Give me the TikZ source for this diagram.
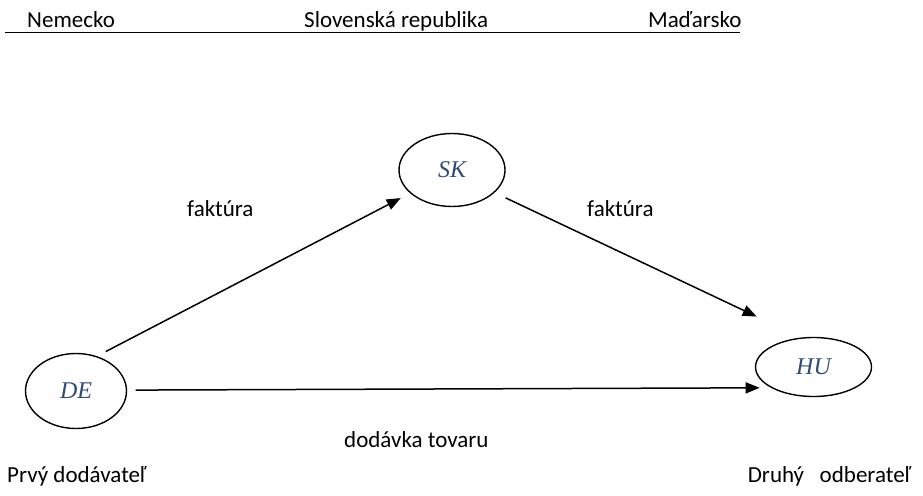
\documentclass[tikz,border=0pt]{standalone}
\usepackage{fontspec}
\setmainfont{Carlito}
\newfontfamily\labelserif{Liberation Serif}
\usetikzlibrary{shapes.geometric,arrows.meta}
\definecolor{labelblue}{RGB}{47,75,120}
\tikzset{
  lbl/.style={font=\fontsize{23}{27}\selectfont, inner sep=0pt, anchor=base west},
  country/.style={ellipse, draw, line width=1.4pt, inner sep=0pt,
    font=\labelserif\itshape\fontsize{24}{28}\selectfont, text=labelblue},
  conn/.style={-{Triangle[length=14pt,width=11pt]}, line width=1.5pt},
}
\begin{document}
\begin{tikzpicture}[x=1pt,y=-1pt]
\useasboundingbox[fill=white] (0,0) rectangle (923,495);
% header
\node[lbl] (nem) at (27,28) {Nemecko};
\node[lbl] (svk) at (304,28) {Slovenská republika};
\node[lbl] (mad) at (648,28) {Maďarsko};
\draw[line width=1.8pt] (5,32.5) -- (740,32.5);
% countries
\node[country, minimum width=101pt, minimum height=75pt] (DE) at (76,391) {DE};
\node[country, minimum width=106pt, minimum height=73pt] (SK) at (452,170) {SK};
\node[country, minimum width=116pt, minimum height=59pt] (HU) at (813.5,367) {HU};
% connectors
\draw[conn, shorten <=9.9pt, shorten >=10.5pt] (DE.59.6) -- (SK.209.5);
\draw[conn, shorten <=12.2pt, shorten >=49pt] (SK.332) -- (HU.113);
\draw[conn, shorten <=8.5pt, shorten >=11.2pt] (DE.1) -- (HU.206);
% labels
\node[lbl] (f1) at (187,216) {faktúra};
\node[lbl] (f2) at (587,216) {faktúra};
\node[lbl] (dod) at (344,447) {dodávka tovaru};
\node[lbl] (prvy) at (7,482) {Prvý dodávateľ};
\node[lbl, anchor=base east] (druhy) at (911,482) {Druhý\ \ \ odberateľ};
\end{tikzpicture}
\end{document}
